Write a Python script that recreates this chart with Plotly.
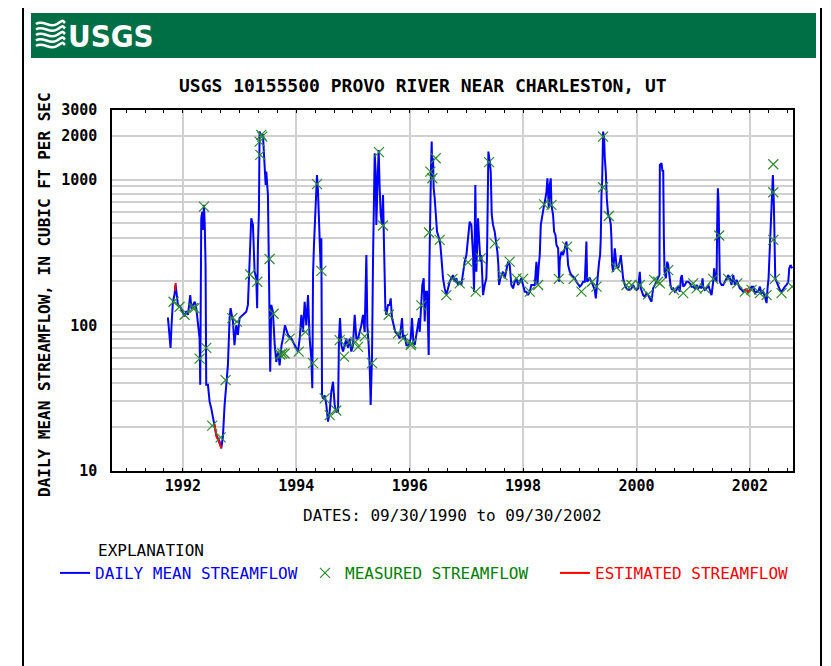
import plotly.graph_objects as go

# ---------------- data ----------------
# daily mean streamflow (decimal year, cfs), split by period
yr_a = [1991.736, 1991.760, 1991.783, 1991.800, 1991.824, 1991.850, 1991.871, 1991.890, 1991.912, 1991.954,
        1992.000, 1992.030, 1992.060, 1992.089, 1992.130, 1992.150, 1992.177, 1992.210, 1992.236, 1992.265,
        1992.295, 1992.306, 1992.315, 1992.324, 1992.342, 1992.355, 1992.371, 1992.385, 1992.400, 1992.412,
        1992.442, 1992.471, 1992.500, 1992.530, 1992.559, 1992.589, 1992.618, 1992.647, 1992.677, 1992.706,
        1992.736, 1992.765, 1992.794, 1992.824, 1992.841, 1992.883, 1992.910, 1992.941, 1992.970, 1993.000,
        1993.059, 1993.118, 1993.147, 1993.177, 1993.206, 1993.236, 1993.265, 1993.294, 1993.310, 1993.324,
        1993.341, 1993.353, 1993.382, 1993.412, 1993.441, 1993.460, 1993.471, 1993.500, 1993.515, 1993.529,
        1993.540, 1993.559, 1993.588, 1993.620, 1993.647, 1993.680, 1993.706, 1993.740, 1993.765, 1993.800]
cfs_a = [113, 90, 70, 100, 145, 160, 190, 165, 138, 134,
         124, 115, 125, 118, 161, 130, 138, 145, 131, 100,
         81, 39, 250, 542, 602, 450, 670, 500, 260, 39,
         39, 30, 27, 23, 20.7, 17.7, 16.8, 16, 14.3, 17.2,
         28.4, 41, 53, 112, 131, 106, 73, 100, 86, 112,
         118, 124, 138, 337, 542, 488, 233, 210, 131, 356,
         602, 2133, 2024, 2024, 1328, 918, 1133, 784, 288, 112,
         48, 138, 124, 73, 56, 66, 53, 73, 81, 100]

yr_b = [1993.854, 1993.913, 1993.971, 1994.030, 1994.060, 1994.089, 1994.118, 1994.148, 1994.177, 1994.207,
        1994.236, 1994.265, 1994.283, 1994.295, 1994.312, 1994.336, 1994.354, 1994.365, 1994.383, 1994.401,
        1994.430, 1994.442, 1994.454, 1994.471, 1994.501, 1994.530, 1994.559, 1994.589, 1994.618, 1994.648,
        1994.677, 1994.706, 1994.736, 1994.753, 1994.771, 1994.795, 1994.824, 1994.853, 1994.883, 1994.912,
        1994.942, 1994.971, 1995.000, 1995.030, 1995.059, 1995.089, 1995.118, 1995.147, 1995.177, 1995.206,
        1995.236, 1995.253, 1995.277, 1995.294, 1995.312, 1995.336, 1995.353, 1995.371, 1995.383, 1995.400,
        1995.412, 1995.430, 1995.453, 1995.471, 1995.489, 1995.512, 1995.530, 1995.547, 1995.571, 1995.588,
        1995.618, 1995.647, 1995.665, 1995.688, 1995.718, 1995.747, 1995.794, 1995.824, 1995.865, 1995.883,
        1995.912, 1995.941, 1995.982, 1996.018, 1996.041, 1996.065, 1996.088]
cfs_b = [86, 81, 73, 66, 81, 118, 90, 145, 100, 161,
         81, 59, 37, 221, 356, 542, 918, 1075, 826, 439,
         246, 395, 33, 31.5, 33, 28.4, 21.8, 25.5, 35, 41,
         28.4, 25.5, 25.5, 81, 112, 73, 66, 73, 81, 70,
         81, 66, 73, 118, 81, 81, 90, 100, 118, 90,
         303, 100, 73, 53, 28.4, 62.5, 273, 968, 1515, 1133,
         488, 871, 1596, 871, 571, 488, 784, 356, 131, 118,
         138, 138, 153, 112, 100, 90, 86, 81, 112, 81,
         86, 73, 73, 81, 112, 77, 73]

yr_c = [1996.118, 1996.147, 1996.165, 1996.176, 1996.206, 1996.223, 1996.247, 1996.265, 1996.282, 1996.306,
        1996.323, 1996.335, 1996.347, 1996.365, 1996.376, 1996.388, 1996.400, 1996.412, 1996.423, 1996.441,
        1996.459, 1996.482, 1996.517, 1996.541, 1996.565, 1996.588, 1996.617, 1996.647, 1996.676, 1996.706,
        1996.735, 1996.764, 1996.794, 1996.823, 1996.853, 1996.882, 1996.911, 1996.941, 1996.970, 1997.000,
        1997.029, 1997.058, 1997.088, 1997.117, 1997.135, 1997.147, 1997.158, 1997.176, 1997.194, 1997.205,
        1997.223, 1997.247, 1997.264, 1997.282, 1997.294, 1997.323, 1997.352, 1997.364, 1997.376, 1997.388,
        1997.411, 1997.429, 1997.447, 1997.470, 1997.499, 1997.529, 1997.546, 1997.564, 1997.576, 1997.599,
        1997.623, 1997.646, 1997.676, 1997.705, 1997.735, 1997.764, 1997.793, 1997.823, 1997.852, 1997.882,
        1997.911, 1997.940, 1997.970, 1997.999, 1998.029, 1998.058, 1998.087, 1998.117, 1998.146, 1998.176,
        1998.205]
cfs_c = [86, 106, 112, 90, 138, 189, 210, 106, 170, 170,
         100, 62.5, 246, 1133, 1195, 1821, 1020, 1400, 871, 744,
         571, 439, 395, 356, 273, 210, 179, 161, 179, 199,
         210, 221, 199, 210, 189, 199, 189, 233, 273, 303,
         395, 514, 488, 303, 170, 871, 918, 233, 337, 542,
         395, 273, 303, 170, 161, 189, 210, 303, 871, 1555,
         1328, 1133, 571, 488, 439, 375, 320, 259, 189, 210,
         221, 233, 210, 246, 273, 259, 189, 179, 199, 210,
         189, 199, 210, 189, 170, 170, 161, 170, 189, 189,
         189]

yr_d = [1998.235, 1998.253, 1998.277, 1998.294, 1998.312, 1998.335, 1998.353, 1998.371, 1998.394, 1998.412,
        1998.429, 1998.441, 1998.453, 1998.471, 1998.488, 1998.500, 1998.529, 1998.547, 1998.571, 1998.588,
        1998.618, 1998.635, 1998.647, 1998.676, 1998.706, 1998.735, 1998.765, 1998.782, 1998.794, 1998.823,
        1998.853, 1998.882, 1998.912, 1998.941, 1998.970, 1999.000, 1999.029, 1999.059, 1999.088, 1999.117,
        1999.129, 1999.147, 1999.176, 1999.206, 1999.235, 1999.264, 1999.282, 1999.300, 1999.323, 1999.341,
        1999.358, 1999.370, 1999.382, 1999.394, 1999.411, 1999.429, 1999.441, 1999.458, 1999.476, 1999.500,
        1999.529, 1999.547, 1999.558, 1999.570, 1999.588, 1999.617, 1999.647, 1999.676, 1999.705, 1999.723,
        1999.747, 1999.764, 1999.794, 1999.823, 1999.852, 1999.882, 1999.911, 1999.941, 1999.970, 2000.000,
        2000.029, 2000.058, 2000.076, 2000.099, 2000.117, 2000.146, 2000.176, 2000.205, 2000.235, 2000.264,
        2000.293, 2000.323, 2000.352, 2000.382, 2000.405]
cfs_d = [273, 189, 259, 303, 488, 571, 602, 670, 744, 826,
         1020, 705, 635, 918, 1020, 670, 571, 439, 417, 356,
         337, 199, 280, 320, 303, 337, 375, 303, 259, 233,
         221, 216, 210, 199, 189, 184, 189, 199, 199, 375,
         199, 205, 210, 199, 189, 175, 153, 189, 246, 273,
         303, 395, 784, 968, 2133, 1920, 1400, 1133, 744, 571,
         542, 488, 395, 259, 233, 337, 259, 246, 273, 303,
         246, 210, 189, 179, 175, 175, 179, 189, 179, 175,
         179, 233, 179, 170, 161, 157, 166, 161, 153, 145,
         179, 189, 199, 210, 221]

yr_e = [2000.412, 2000.441, 2000.459, 2000.471, 2000.483, 2000.494, 2000.518, 2000.541, 2000.559, 2000.577,
        2000.600, 2000.624, 2000.647, 2000.677, 2000.706, 2000.735, 2000.765, 2000.782, 2000.800, 2000.824,
        2000.853, 2000.882, 2000.912, 2000.941, 2000.971, 2001.000, 2001.029, 2001.059, 2001.088, 2001.118,
        2001.147, 2001.165, 2001.176, 2001.206, 2001.235, 2001.265, 2001.294, 2001.323, 2001.353, 2001.370,
        2001.388, 2001.412, 2001.423, 2001.435, 2001.447, 2001.459, 2001.470, 2001.500, 2001.529, 2001.559,
        2001.588, 2001.617, 2001.647, 2001.676, 2001.706, 2001.735, 2001.764, 2001.794, 2001.823, 2001.853,
        2001.882, 2001.911, 2001.941, 2001.970, 2002.000, 2002.029, 2002.058, 2002.088, 2002.117, 2002.147,
        2002.176, 2002.205, 2002.235, 2002.264, 2002.294, 2002.311, 2002.329, 2002.341, 2002.352, 2002.370,
        2002.388, 2002.405, 2002.423, 2002.435, 2002.447, 2002.470, 2002.500, 2002.529, 2002.558, 2002.588,
        2002.617, 2002.646, 2002.676, 2002.694, 2002.717, 2002.745]
cfs_e = [1260, 1294, 1133, 1164, 395, 233, 210, 273, 259, 221,
         189, 175, 179, 170, 175, 184, 170, 210, 221, 184,
         189, 199, 199, 194, 184, 184, 179, 189, 179, 184,
         179, 210, 184, 175, 179, 189, 175, 161, 199, 246,
         210, 199, 488, 871, 705, 417, 199, 189, 189, 199,
         210, 221, 210, 189, 221, 189, 205, 189, 179, 175,
         170, 175, 175, 170, 175, 184, 184, 166, 170, 170,
         184, 166, 170, 157, 142, 179, 210, 273, 356, 635,
         871, 1075, 670, 273, 210, 199, 184, 175, 170, 179,
         184, 189, 199, 246, 259, 246]

# estimated streamflow (gaps separate the short runs)
est_year = [1991.862, 1991.874, None, 1992.556, 1992.575, 1992.595, 1992.620, 1992.650, 1992.680, None,
            2001.895, 2001.930, 2001.960, 2002.000]
est_cfs = [172, 195, None, 21, 18.5, 17, 16.5, 15.5, 14.3, None,
           172, 176, 170, 174]

# measured streamflow
meas_year = [1991.836, 1991.942, 1992.030, 1992.177, 1992.206, 1992.295, 1992.371, 1992.412, 1992.518, 1992.665,
             1992.753, 1992.871, 1992.953, 1993.188, 1993.312, 1993.353, 1993.365, 1993.382, 1993.400, 1993.529,
             1993.600, 1993.718, 1993.753, 1993.795, 1993.883, 1994.042, 1994.160, 1994.295, 1994.365, 1994.442,
             1994.501, 1994.589, 1994.706, 1994.765, 1994.842, 1994.930, 1995.042, 1995.089, 1995.206, 1995.336,
             1995.459, 1995.530, 1995.630, 1995.794, 1995.883, 1996.018, 1996.029, 1996.206, 1996.341, 1996.365,
             1996.400, 1996.459, 1996.529, 1996.647, 1996.753, 1996.882, 1997.029, 1997.164, 1997.252, 1997.400,
             1997.500, 1997.635, 1997.764, 1997.882, 1998.000, 1998.117, 1998.265, 1998.371, 1998.500, 1998.629,
             1998.776, 1998.894, 1999.029, 1999.217, 1999.294, 1999.411, 1999.411, 1999.511, 1999.647, 1999.823,
             1999.911, 2000.058, 2000.205, 2000.311, 2000.382, 2000.412, 2000.559, 2000.659, 2000.824, 2001.000,
             2001.059, 2001.206, 2001.353, 2001.459, 2001.617, 2001.776, 2001.911, 2002.029, 2002.176, 2002.294,
             2002.412, 2002.412, 2002.412, 2002.441, 2002.558, 2002.745]
meas_cfs = [145, 134, 118, 131, 131, 59, 652, 70, 20.5, 17,
            42, 112, 106, 223, 199, 1821, 1475, 2024, 1970, 285,
            120, 63, 64, 64, 81, 66, 90, 55, 930, 236,
            31.5, 24.2, 26, 79, 61, 76, 77, 71, 84, 55,
            1540, 484, 118, 88, 81, 73, 75, 137, 433, 1133,
            1020, 1400, 385, 161, 208, 194, 270, 170, 288, 1315,
            365, 221, 273, 210, 208, 170, 189, 676, 670, 208,
            346, 208, 170, 199, 184, 1970, 885, 562, 249, 189,
            189, 189, 163, 205, 199, 194, 239, 175, 166, 194,
            179, 179, 208, 413, 208, 194, 170, 175, 166, 161,
            1273, 818, 385, 208, 166, 184]

# axis ticks
y_grid_vals = [10, 20, 30, 40, 50, 60, 70, 80, 90,
               100, 200, 300, 400, 500, 600, 700, 800, 900,
               1000, 2000, 3000]
y_labeled = [10, 100, 1000, 2000, 3000]
x_tick_years = [1992, 1994, 1996, 1998, 2000, 2002]

# ---------------- figure ----------------
# the page body has an 8 px margin, so the figure is shifted by 8 px
OFF = 8
W, H = 831 - OFF, 666 - OFF
PL, PR, PT, PB = 112, 793, 110, 471          # plot box in window pixels
PW, PH = PR - PL, PB - PT
ML, MT = PL - OFF, PT - OFF
MR, MB = W - (PR - OFF), H - (PB - OFF)


def px(x):
    return (x - PL) / PW


def py(y):
    return (PB - y) / PH


MONO = "DejaVu Sans Mono"
BLUE = "#0000ff"
GREEN = "#008000"
RED = "#ff0000"

flow_year = yr_a + yr_b + yr_c + yr_d + yr_e
flow_cfs = cfs_a + cfs_b + cfs_c + cfs_d + cfs_e

fig = go.Figure()
fig.add_trace(go.Scatter(
    x=flow_year, y=flow_cfs, mode="lines",
    line=dict(color=BLUE, width=2),
    name=f"<span style='color:{BLUE}'>DAILY MEAN STREAMFLOW</span>",
    legendrank=1, hoverinfo="skip"))
fig.add_trace(go.Scatter(
    x=est_year, y=est_cfs, mode="lines", connectgaps=False,
    line=dict(color=RED, width=2),
    name=f"<span style='color:{RED}'>ESTIMATED STREAMFLOW</span>",
    legendrank=3, hoverinfo="skip"))
fig.add_trace(go.Scatter(
    x=meas_year, y=meas_cfs, mode="markers",
    marker=dict(symbol="x-thin", size=10, color="#2e8b2e",
                line=dict(color="#2e8b2e", width=1.2)),
    name=f"<span style='color:{GREEN}'>MEASURED STREAMFLOW</span>",
    legendrank=2, hoverinfo="skip"))

fig.update_xaxes(
    type="linear", range=[1990.75, 2002.76],
    tickvals=x_tick_years, ticktext=[str(v) for v in x_tick_years],
    showgrid=True, gridcolor="#d0d0d0", gridwidth=1.5,
    ticks="inside", ticklen=3, tickcolor="black",
    minor=dict(tick0=1990, dtick=1 / 3, ticks="inside", ticklen=3,
               tickcolor="black", showgrid=False),
    showline=True, linecolor="black", linewidth=1.5, mirror="ticks",
    tickfont=dict(family=MONO, size=15, color="black", weight="bold"),
    zeroline=False)

fig.update_yaxes(
    type="log", range=[1, 3.4771],
    tickvals=y_grid_vals,
    ticktext=[str(v) if v in y_labeled else "" for v in y_grid_vals],
    showgrid=True, gridcolor="#d0d0d0", gridwidth=1.5,
    ticks="", ticklabelstandoff=10,
    showline=True, linecolor="black", linewidth=1.5, mirror=True,
    tickfont=dict(family=MONO, size=15, color="black", weight="bold"),
    zeroline=False)

shapes = [
    # outer frame
    dict(type="line", xref="paper", yref="paper", x0=px(23), x1=px(23), y0=py(5), y1=py(680),
         line=dict(color="black", width=2)),
    dict(type="line", xref="paper", yref="paper", x0=px(23), x1=px(821), y0=py(5), y1=py(5),
         line=dict(color="black", width=2)),
    dict(type="line", xref="paper", yref="paper", x0=px(821), x1=px(821), y0=py(5), y1=py(680),
         line=dict(color="black", width=2)),
    # green USGS banner
    dict(type="rect", xref="paper", yref="paper", x0=px(31), x1=px(816), y0=py(13), y1=py(58),
         fillcolor="#006f45", line=dict(width=0)),
]
# logo wave mark
for yy in [24, 29.5, 35, 40.5, 46]:
    path = (f"M {px(36)},{py(yy)} C {px(43)},{py(yy - 5)} {px(50)},{py(yy + 5)} {px(57)},{py(yy)} "
            f"S {px(63)},{py(yy - 3)} {px(65)},{py(yy - 1)}")
    shapes.append(dict(type="path", xref="paper", yref="paper", path=path,
                       line=dict(color="white", width=2.6)))

annotations = [
    dict(text="USGS", x=px(66), y=py(36), xref="paper", yref="paper", xanchor="left", yanchor="middle",
         showarrow=False, font=dict(family="DejaVu Sans Condensed, sans-serif",
                                    size=31, color="white", weight="bold")),
    dict(text="USGS 10155500 PROVO RIVER NEAR CHARLESTON, UT", x=px(423), y=py(86),
         xref="paper", yref="paper", xanchor="center", yanchor="middle", showarrow=False,
         font=dict(family=MONO, size=18, color="black", weight="bold")),
    dict(text="DAILY MEAN STREAMFLOW, IN CUBIC FT PER SEC", x=px(44), y=py(295), textangle=-90,
         xref="paper", yref="paper", xanchor="center", yanchor="middle", showarrow=False,
         font=dict(family=MONO, size=16, color="black", weight="bold")),
    dict(text="DATES: 09/30/1990 to 09/30/2002", x=px(452), y=py(515),
         xref="paper", yref="paper", xanchor="center", yanchor="middle", showarrow=False,
         font=dict(family=MONO, size=16, color="black")),
    dict(text="EXPLANATION", x=px(96), y=py(550),
         xref="paper", yref="paper", xanchor="left", yanchor="middle", showarrow=False,
         font=dict(family=MONO, size=16, color="black")),
]

fig.update_layout(
    width=W, height=H,
    margin=dict(l=ML, r=MR, t=MT, b=MB),
    plot_bgcolor="white", paper_bgcolor="white",
    shapes=shapes, annotations=annotations,
    showlegend=True,
    legend=dict(orientation="h", x=px(55), y=py(573), xanchor="left", yanchor="middle",
                entrywidth=205, entrywidthmode="pixels",
                font=dict(family=MONO, size=16), bgcolor="rgba(0,0,0,0)",
                itemclick=False, itemdoubleclick=False),
)

fig.write_html("out.html")
